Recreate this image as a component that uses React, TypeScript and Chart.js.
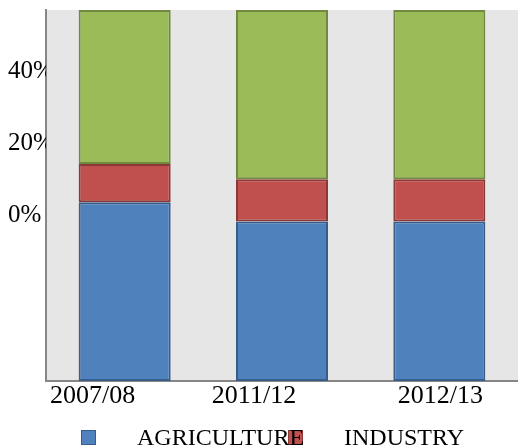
import React, { useEffect, useRef } from 'react';
import { Chart, registerables } from 'chart.js';

Chart.register(...registerables);

// Sector shares of output per year (percent of total)
const YEARS = ['2007/08', '2011/12', '2012/13'];
const SECTORS = ['AGRICULTURE', 'INDUSTRY', 'SERVICES'];
const AGRICULTURE = [48.2, 43.0, 43.0];
const INDUSTRY = [10.3, 11.4, 11.4];
const SERVICES = [41.5, 45.6, 45.6];
const SHARE_TICKS = ['0%', '20%', '40%'];

// Styling
const SERIF = '"Liberation Serif", "Times New Roman", serif';
const FILLS = ['#4f81bd', '#c0504d', '#9bbb59'];
const EDGES = ['#385d8a', '#8c3836', '#71893f'];
const AXIS_GREY = '#868686';
const TICK_BASE = 44.5;
const TICK_STEP = 19.5;
const YEAR_NUDGE = [-32, -28, 1];

const plotBackground = {
  id: 'plotBackground',
  beforeDraw(chart: any) {
    const { ctx, chartArea: a } = chart;
    ctx.save();
    ctx.fillStyle = '#e6e6e6';
    ctx.fillRect(a.left, a.top, a.right - a.left, a.bottom - a.top);
    ctx.restore();
  },
};

const yearLabels = {
  id: 'yearLabels',
  afterDraw(chart: any) {
    const { ctx } = chart;
    const xs = chart.scales.x;
    ctx.save();
    ctx.font = `26px ${SERIF}`;
    ctx.fillStyle = '#000';
    ctx.textAlign = 'center';
    ctx.textBaseline = 'alphabetic';
    (chart.data.labels as string[]).forEach((t, i) => {
      ctx.fillText(t, xs.getPixelForValue(i) + (YEAR_NUDGE[i] || 0), xs.top + 22);
    });
    ctx.restore();
  },
};

const sectorLegend = {
  id: 'sectorLegend',
  afterDraw(chart: any) {
    const { ctx, width } = chart;
    const startX = 81;
    const pitch = 207;
    const box = 15;
    const top = 430;
    const textGap = 56;
    const sets = chart.data.datasets;
    const shown = sets
      .map((ds: any, i: number) => ({ ds, x: startX + i * pitch }))
      .filter((it: any) => it.x + textGap < width);
    ctx.save();
    shown.forEach(({ ds, x }: any) => {
      ctx.fillStyle = ds.backgroundColor;
      ctx.fillRect(x, top, box, box);
      ctx.strokeStyle = ds.borderColor;
      ctx.lineWidth = 1;
      ctx.strokeRect(x + 0.5, top + 0.5, box - 1, box - 1);
    });
    ctx.font = `24px ${SERIF}`;
    ctx.fillStyle = '#000';
    ctx.textAlign = 'left';
    ctx.textBaseline = 'alphabetic';
    shown.forEach(({ ds, x }: any) => {
      ctx.fillText(ds.label, x + textGap, top + box);
    });
    ctx.restore();
  },
};

export default function App() {
  const canvasRef = useRef<HTMLCanvasElement | null>(null);

  useEffect(() => {
    document.body.style.margin = '0';
    const canvas = canvasRef.current;
    if (!canvas) return;
    const series = [AGRICULTURE, INDUSTRY, SERVICES];
    const chart = new Chart(canvas, {
      type: 'bar',
      data: {
        labels: YEARS,
        datasets: series.map((values, i) => ({
          label: SECTORS[i],
          data: values,
          backgroundColor: FILLS[i],
          borderColor: EDGES[i],
          borderWidth: 2,
          borderSkipped: false,
          barPercentage: 0.585,
          categoryPercentage: 1,
        })),
      },
      options: {
        responsive: false,
        animation: false,
        layout: { padding: { left: 8, top: 10, right: 0, bottom: 0 } },
        plugins: {
          legend: { display: false },
          tooltip: { enabled: false },
        },
        scales: {
          x: {
            stacked: true,
            grid: { display: false },
            border: { color: AXIS_GREY, width: 2 },
            ticks: { display: false },
            afterFit: (s: any) => {
              s.height = 67;
              s.paddingLeft = 0;
              s.paddingRight = 0;
            },
          },
          y: {
            stacked: true,
            min: 0,
            max: 100,
            grid: { display: false },
            border: { color: AXIS_GREY, width: 2 },
            afterBuildTicks: (s: any) => {
              s.ticks = SHARE_TICKS.map((_, i) => ({ value: TICK_BASE + i * TICK_STEP }));
            },
            afterFit: (s: any) => {
              s.width = 38;
              s.paddingTop = 0;
              s.paddingBottom = 0;
            },
            ticks: {
              callback: (_v: any, i: number) => SHARE_TICKS[i],
              crossAlign: 'far',
              padding: 0,
              color: '#000',
              autoSkip: false,
              font: { family: SERIF, size: 25 },
            },
          },
        },
      },
      plugins: [plotBackground, yearLabels, sectorLegend],
    } as any);
    return () => chart.destroy();
  }, []);

  return (
    <div style={{ width: 518, height: 448, background: '#fff' }}>
      <canvas ref={canvasRef} width={518} height={448} style={{ display: 'block' }} />
    </div>
  );
}
